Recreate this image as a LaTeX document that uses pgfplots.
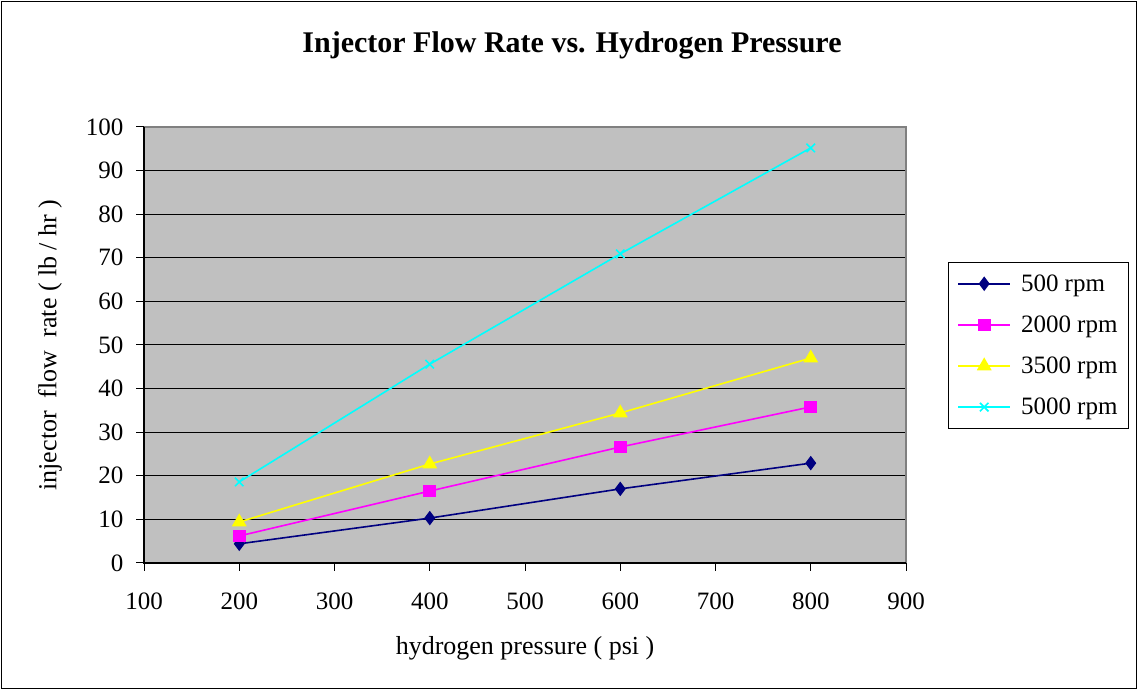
\documentclass[border=0pt]{standalone}
\usepackage{pgfplots}
\pgfplotsset{compat=1.18}
\usepackage{fontspec}
\setmainfont{Liberation Serif}
\definecolor{plotgray}{HTML}{C0C0C0}
\definecolor{navyc}{HTML}{000080}
\definecolor{magc}{HTML}{FF00FF}
\definecolor{yelc}{HTML}{FFFF00}
\definecolor{cyac}{HTML}{00FFFF}
\begin{document}
\begin{tikzpicture}[x=1pt,y=1pt]
\useasboundingbox (0,0) rectangle (1138,690);
\draw[black,line width=1pt] (1.5,1.5) rectangle (1136.5,688.5);
\begin{axis}[
  at={(144pt,127pt)}, anchor=south west,
  scale only axis, width=762pt, height=436pt,
  xmin=100, xmax=900, ymin=0, ymax=100,
  xtick={100,200,...,900}, ytick={0,10,...,100},
  axis background/.style={fill=plotgray},
  axis line style={draw=none},
  ymajorgrids, major grid style={black, line width=1pt},
  tick style={black, line width=1pt},
  tick align=outside, major tick length=8pt,
  xtick pos=bottom, ytick pos=left,
  /pgf/number format/assume math mode=true,
  /pgf/number format/.cd, 1000 sep={}, /pgfplots/.cd,
  ticklabel style={font=\fontsize{25}{30}\selectfont},
  xticklabel style={yshift=-18pt},
  yticklabel style={xshift=-9pt},
  legend style={at={(1.055,0.69)}, anchor=north west, draw=black, line width=1pt,
    row sep=19pt, inner xsep=9pt, inner ysep=10pt},
  legend style={nodes={font=\fontsize{25}{30}\selectfont}},
  legend style={/tikz/every odd column/.append style={column sep=8pt}},
  legend cell align=left,
  legend image code/.code={\draw[mark repeat=2,mark phase=2,#1] plot coordinates {(0pt,0pt) (26pt,0pt) (52pt,0pt)};},
  clip=false,
]
\addplot[navyc, line width=1.6pt, mark=diamond*, mark size=6pt, mark options={solid}] coordinates {(200,4.4) (400,10.3) (600,17.0) (800,22.9)};
\addlegendentry{500 rpm}
\addplot[magc, line width=1.6pt, mark=square*, mark size=5.5pt] coordinates {(200,6.2) (400,16.5) (600,26.6) (800,35.8)};
\addlegendentry{2000 rpm}
\addplot[yelc, line width=1.6pt, mark=triangle*, mark size=7pt] coordinates {(200,9.4) (400,22.7) (600,34.4) (800,47.0)};
\addlegendentry{3500 rpm}
\addplot[cyac, line width=1.6pt, mark=x, mark size=6pt] coordinates {(200,18.6) (400,45.6) (600,70.9) (800,95.2)};
\addlegendentry{5000 rpm}
\draw[gray, line width=2pt] (rel axis cs:0,1) -- (rel axis cs:1,1) -- (rel axis cs:1,0);
\draw[black, line width=1.2pt] (rel axis cs:0,1) -- (rel axis cs:0,0) -- (rel axis cs:1,0);
\end{axis}
\node[font=\bfseries\fontsize{30}{34}\selectfont] at (572,645) {Injector Flow Rate vs. Hydrogen Pressure};
\node[font=\fontsize{26}{30}\selectfont] at (525,42) {hydrogen pressure ( psi )};
\node[font=\fontsize{26}{30}\selectfont, rotate=90] at (50,345) {injector\ \ flow\ \ rate ( lb / hr )};
\end{tikzpicture}
\end{document}
